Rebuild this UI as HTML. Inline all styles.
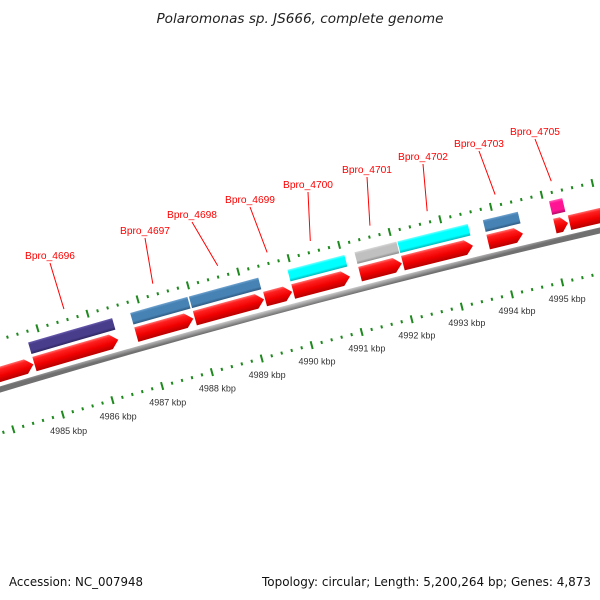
<!DOCTYPE html>
<html><head><meta charset="utf-8"><style>
html,body{margin:0;padding:0;background:#fff;}
svg{display:block;}
</style></head><body>
<svg id="map" width="600" height="600" viewBox="0 0 600 600" xmlns="http://www.w3.org/2000/svg">
<defs></defs>
<text x="300" y="23" text-anchor="middle" font-family="DejaVu Sans, sans-serif" font-style="italic" font-size="13" fill="#222" textLength="287" lengthAdjust="spacingAndGlyphs">Polaromonas sp. JS666, complete genome</text>
<g id="g-backbone"></g>
<g id="g-features"></g>
<g id="g-rulers"></g>
<g id="g-labels"></g>
<text x="9" y="586" font-family="DejaVu Sans, sans-serif" font-size="12" fill="#111" textLength="134" lengthAdjust="spacingAndGlyphs">Accession: NC_007948</text>
<text x="591" y="586" text-anchor="end" font-family="DejaVu Sans, sans-serif" font-size="12" fill="#111" textLength="329" lengthAdjust="spacingAndGlyphs">Topology: circular; Length: 5,200,264 bp; Genes: 4,873</text>
</svg>
<script>
// ---- data ----
const geneNames = ['', 'Bpro_4696','Bpro_4697','Bpro_4698','Bpro_4699','Bpro_4700','Bpro_4701','Bpro_4702','Bpro_4703','Bpro_4705',''];
const geneStarts = [4983.0,4984.75,4986.79,4987.96,4989.36,4989.92,4991.25,4992.10,4993.79,4995.11,4995.40];
const geneEnds   = [4984.73,4986.43,4987.93,4989.34,4989.90,4991.05,4992.08,4993.49,4994.48,4995.37,4997.5];
const geneCategories = ['', 'E','C','C','', 'K','-','K','C','T',''];
const tickLabelValues = [4985,4986,4987,4988,4989,4990,4991,4992,4993,4994,4995];
const rulerStart = 4983.0;
const rulerEnd = 4997.2;

// ---- layout / style ----
const catColors = {'E':['#6a5cb0','#483d8b','#2e2660'],'C':['#6fa3d0','#4682b4','#2f5a80'],'K':['#80ffff','#00ffff','#00b8b8'],'-':['#d8d8d8','#c0c0c0','#8c8c8c'],'T':['#ff5cb5','#ff1493','#b00c68']};
const labelX = [50,145,192,250,308,367,423,479,535];
const labelCY = [255,230,214,199,184,169,156,143,131];
const CX=2756, CY=9577, R0=9592;
const NS='http://www.w3.org/2000/svg';
function ang(k){return (-16.07+(k-4986)*0.310)*Math.PI/180;}
function pt(r,a){return [CX+r*Math.sin(a), CY-r*Math.cos(a)];}
function f(n){return n.toFixed(2);}
const defs=document.querySelector('defs');
let gid=0;
function grad(a,r1,r2,stops){
  const g=document.createElementNS(NS,'linearGradient');
  const id='gr'+(gid++);
  g.setAttribute('id',id);
  g.setAttribute('gradientUnits','userSpaceOnUse');
  const p1=pt(r2,a), p2=pt(r1,a);
  g.setAttribute('x1',f(p1[0]));g.setAttribute('y1',f(p1[1]));
  g.setAttribute('x2',f(p2[0]));g.setAttribute('y2',f(p2[1]));
  stops.forEach(s=>{const st=document.createElementNS(NS,'stop');st.setAttribute('offset',s[0]);st.setAttribute('stop-color',s[1]);g.appendChild(st);});
  defs.appendChild(g);
  return 'url(#'+id+')';
}
function bandPath(r1,r2,a1,a2,head){
  const ah=head?Math.max(a1,a2-head):a2;
  const o1=pt(r2,a1), o2=pt(r2,ah), i1=pt(r1,a1), i2=pt(r1,ah);
  let d='M'+f(o1[0])+','+f(o1[1])+' A'+r2+','+r2+' 0 0 1 '+f(o2[0])+','+f(o2[1]);
  if(head){const t=pt((r1+r2)/2,a2); d+=' L'+f(t[0])+','+f(t[1]);}
  d+=' L'+f(i2[0])+','+f(i2[1])+' A'+r1+','+r1+' 0 0 0 '+f(i1[0])+','+f(i1[1])+' Z';
  return d;
}
// backbone
const bb=document.getElementById('g-backbone');
const bpth=document.createElementNS(NS,'path');


bpth.setAttribute('d',bandPath(R0-3,R0+3,ang(4982),ang(4998),0));
bpth.setAttribute('fill',grad(ang(4990),R0-3,R0+3,[[0,'#d0d0d0'],[0.4,'#a8a8a8'],[1,'#707070']]));
bb.appendChild(bpth);

// features
const fg=document.getElementById('g-features');
const headK=0.15*0.310*Math.PI/180;
for(let i=0;i<geneStarts.length;i++){
  const a1=ang(geneStarts[i]), a2=ang(geneEnds[i]);
  const am=(a1+a2)/2;
  const p=document.createElementNS(NS,'path');
  
  
  const span=a2-a1;
  p.setAttribute('d',bandPath(R0+7,R0+22,a1,a2,Math.min(headK,span*0.5)));
  p.setAttribute('fill',grad(am,R0+7,R0+22,[[0,'#ff7070'],[0.18,'#ff2020'],[0.6,'#f00000'],[1,'#b80000']]));
  fg.appendChild(p);
  const c=geneCategories[i];
  if(c){
    const cc=catColors[c];
    const q=document.createElementNS(NS,'path');
    
    
    const rr1=c==='T'?R0+26:R0+25, rr2=c==='T'?R0+40:R0+37;
    q.setAttribute('d',bandPath(rr1,rr2,a1,a2,0));
    q.setAttribute('fill',grad(am,rr1,rr2,[[0,cc[0]],[0.2,cc[1]],[0.75,cc[1]],[1,cc[2]]]));
    fg.appendChild(q);
  }
}
// rulers
const rg=document.getElementById('g-rulers');
function tick(r,k,major,name){
  const a=ang(k);
  const h=major?4:1.5;
  const p1=pt(r-h,a), p2=pt(r+h,a);
  const l=document.createElementNS(NS,'line');
  
  
  l.setAttribute('x1',f(p1[0]));l.setAttribute('y1',f(p1[1]));
  l.setAttribute('x2',f(p2[0]));l.setAttribute('y2',f(p2[1]));
  l.setAttribute('stroke','#1e8a1e');l.setAttribute('stroke-width',major?2:2);
  rg.appendChild(l);
}
for(let j=0; rulerStart+j*0.2<=rulerEnd; j++){
  const k=rulerStart+j*0.2;
  const major=(j%5===0);
  tick(R0+48,k,major,major?'outer-ruler-major-tick':'outer-ruler-minor-tick');
  tick(R0-42,k,major,major?'inner-ruler-major-tick':'inner-ruler-minor-tick');
}
tickLabelValues.forEach(v=>{
  const p=pt(R0-42-17,ang(v));
  const t=document.createElementNS(NS,'text');
  
  
  t.setAttribute('x',f(p[0]+1));t.setAttribute('y',f(p[1]+3));
  t.setAttribute('text-anchor','middle');
  t.setAttribute('font-family','Liberation Sans, sans-serif');
  t.setAttribute('font-size','9');
  t.setAttribute('fill','#333');
  t.textContent=v+' kbp';
  rg.appendChild(t);
});
// feature labels
const lg=document.getElementById('g-labels');
let li=0;
for(let i=0;i<geneNames.length;i++){
  if(!geneNames[i]) continue;
  const am=(ang(geneStarts[i])+ang(geneEnds[i]))/2;
  const b=pt(R0+59,am);
  const ln=document.createElementNS(NS,'line');
  
  
  ln.setAttribute('x1',labelX[li]);ln.setAttribute('y1',labelCY[li]+8);
  ln.setAttribute('x2',f(b[0]));ln.setAttribute('y2',f(b[1]));
  ln.setAttribute('stroke','#ff0000');ln.setAttribute('stroke-width','1');
  lg.appendChild(ln);
  const t=document.createElementNS(NS,'text');
  
  
  t.setAttribute('x',labelX[li]);t.setAttribute('y',labelCY[li]+4);
  t.setAttribute('text-anchor','middle');
  t.setAttribute('font-family','Liberation Sans, sans-serif');
  t.setAttribute('font-size','10.5');
  t.setAttribute('fill','#ff0000');
  t.setAttribute('textLength','50');
  t.setAttribute('lengthAdjust','spacingAndGlyphs');
  t.textContent=geneNames[i];
  lg.appendChild(t);
  li++;
}
</script>
</body></html>
